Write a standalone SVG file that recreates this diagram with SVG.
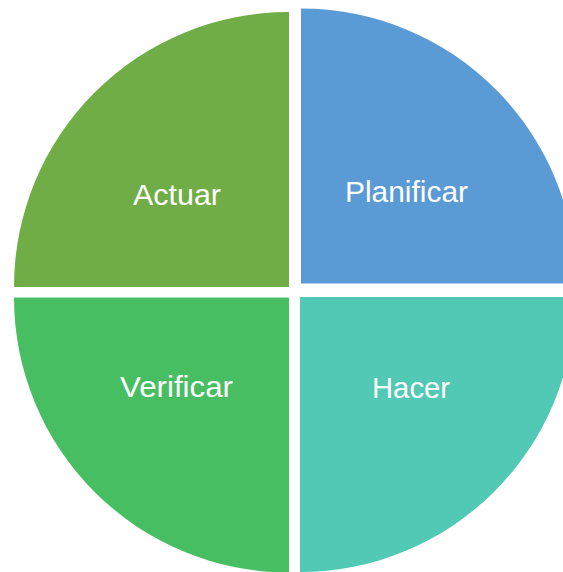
<svg xmlns="http://www.w3.org/2000/svg" width="563" height="572" viewBox="0 0 563 572">
  <style>
    .label { font-family: "Liberation Sans", Arial, sans-serif; font-size: 30px; fill: #ffffff; text-anchor: middle; }
  </style>
  <rect width="563" height="572" fill="#ffffff"/>
  <!-- four quarter-circle segments, radius 275 -->
  <g id="actuar">
    <path d="M289,287 L14,287 A275,275 0 0 1 289,12 Z" fill="#70AD47"/>
    <text class="label" x="177" y="205" textLength="88" lengthAdjust="spacingAndGlyphs">Actuar</text>
  </g>
  <g id="planificar">
    <path d="M301,283.5 L301,8.5 A275,275 0 0 1 576,283.5 Z" fill="#5B9BD5"/>
    <text class="label" x="406.5" y="201.5" textLength="123" lengthAdjust="spacingAndGlyphs">Planificar</text>
  </g>
  <g id="verificar">
    <path d="M289,297.5 L289,572.5 A275,275 0 0 1 14,297.5 Z" fill="#48BE63"/>
    <text class="label" x="176.5" y="397" textLength="113" lengthAdjust="spacingAndGlyphs">Verificar</text>
  </g>
  <g id="hacer">
    <path d="M300,297 L575,297 A275,275 0 0 1 300,572 Z" fill="#52C9B5"/>
    <text class="label" x="411" y="397.5" textLength="78" lengthAdjust="spacingAndGlyphs">Hacer</text>
  </g>
  <g id="connectors"/>
</svg>
